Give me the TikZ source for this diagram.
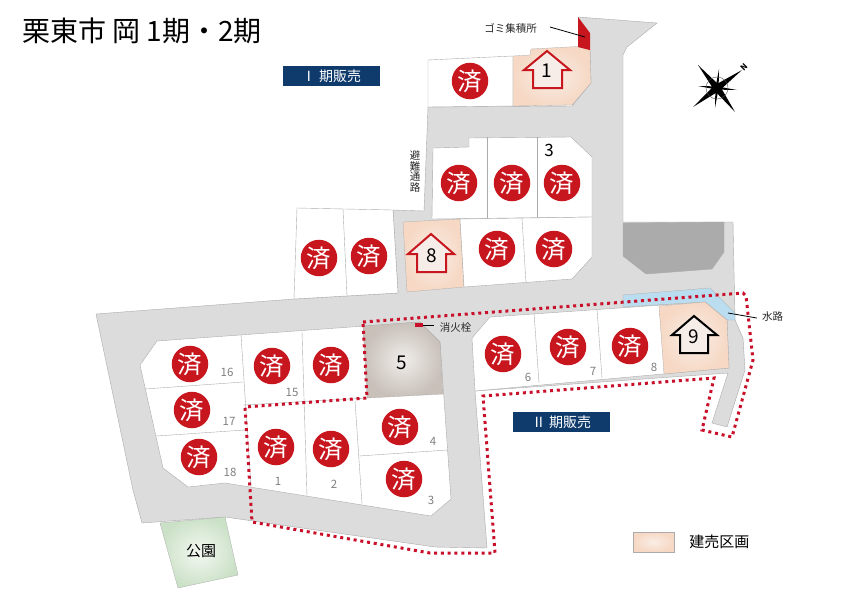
\documentclass[tikz,border=0pt]{standalone}
\usepackage{fontspec}
\setmainfont{Noto Sans CJK JP}
\usetikzlibrary{positioning,calc}
\definecolor{roadgray}{HTML}{DCDCDC}
\definecolor{edgegray}{HTML}{ABABAB}
\definecolor{pondgray}{HTML}{ABABAB}
\definecolor{soldred}{HTML}{C8161E}
\definecolor{phasered}{HTML}{C9102A}
\definecolor{pennant}{HTML}{0F3A6C}
\definecolor{waterblue}{HTML}{BBDDF0}
\definecolor{numgray}{HTML}{808080}
\definecolor{peachin}{HTML}{F9EDE6}
\definecolor{peachout}{HTML}{F6D8C4}
\definecolor{houseface}{HTML}{F6EDE8}
\definecolor{stonein}{HTML}{F0EDEA}
\definecolor{stoneout}{HTML}{C8C0B9}
\definecolor{parkin}{HTML}{F3F8F1}
\definecolor{parkout}{HTML}{CBE1C7}
\tikzset{
    road/.style={fill=roadgray,draw=edgegray,line width=0.4pt},
    lotplain/.style={fill=white,draw=edgegray,line width=0.4pt},
    lotpeach/.style={draw=edgegray,line width=0.3pt,inner color=peachin,outer color=peachout},
    soldmark/.style={circle,fill=soldred,text=white,minimum size=36.5pt,inner sep=0pt,font=\fontsize{24.5}{25}\selectfont},
    lotnum/.style={text=numgray,inner sep=0pt,font=\fontsize{11.5}{12}\selectfont},
    bignum/.style={inner sep=0pt,font=\fontsize{19}{20}\selectfont},
    smalllabel/.style={inner sep=0pt,text=black!85,font=\fontsize{10.5}{10.7}\selectfont},
    phasebox/.style={fill=pennant,text=white,minimum width=97pt,minimum height=20pt,inner sep=0pt,font=\fontsize{14}{15}\selectfont},
    leader/.style={draw=black,line width=0.8pt},
    phaseline/.style={draw=phasered,line width=3pt,dash pattern=on 3pt off 3.8pt},
    housered/.style={draw=soldred,fill=houseface,line width=2pt,miter limit=10},
    houseblack/.style={draw=black,fill=houseface,line width=2pt,miter limit=10},
}
\begin{document}
\begin{tikzpicture}[x=1pt,y=-1pt]
    \useasboundingbox (0,0) rectangle (842,595);

    % the roads
    \draw[road] (578,17) -- (657,23) -- (627,47) -- (623,55) -- (623,222) -- (733,222)
        -- (735,320) -- (743,338) -- (745,370) -- (727,427) -- (712,423) -- (728,373)
        -- (475,391) -- (487,548) -- (435,547) -- (225,517) -- (142,523) -- (133,490)
        -- (96,314) -- (294,299) -- (398,293) -- (393,210) -- (424,211) -- (428,107)
        -- (572,106) -- (591,83) -- (590,50) -- cycle;
    \draw[fill=pondgray,draw=edgegray,line width=0.4pt] (623,223) -- (724,222) -- (724,252)
        -- (712,269) -- (646,274) -- (623,256) -- cycle;
    \draw[fill=waterblue,draw=edgegray,line width=0.3pt] (623,295) -- (710,288) -- (735,313)
        -- (735,320) -- (727,320) -- (705,302) -- (623,307) -- cycle;

    % the north lots
    \draw[lotplain] (428,60) -- (513,56) -- (513,106) -- (428,107) -- cycle;
    \draw[lotpeach] (513,56) -- (530,55) -- (531,49) -- (578,46.5) -- (590,50) -- (591,83)
        -- (572,105) -- (513,106) -- cycle;
    \draw[fill=soldred,draw=none] (578,17) -- (590,33) -- (590,50) -- (578,47) -- cycle;
    \draw[lotplain] (433,148) -- (469,147) -- (469,138) -- (571,137) -- (592,157) -- (592,217)
        -- (432,219) -- cycle;
    \foreach \x/\ya/\yb in {487/137/218,537/137/217} {
        \draw[lotplain] (\x,\ya) -- (\x,\yb);
    }
    \draw[lotplain] (297,208) -- (393,210) -- (398,293) -- (294,299) -- cycle;
    \draw[lotplain] (343,209) -- (347,296);
    \draw[lotpeach] (403,222) -- (460,219) -- (464,287) -- (407,292) -- cycle;
    \draw[lotplain] (460,219) -- (592,217) -- (592,257) -- (572,279) -- (464,287) -- cycle;
    \draw[lotplain] (522,218) -- (526,283);

    % the south block
    \draw[lotplain] (157,341) -- (420,322) -- (440,342) -- (451,499) -- (431,516) -- (225,483)
        -- (188,487) -- (163,468) -- (140,365) -- cycle;
    \foreach \xa/\ya/\xb/\yb in {145/389/243/382,156/436/245/430,241/335/251/487,302/332/307/496,
        355/401/362/504,359/456/447/450,243/405/367/398} {
        \draw[lotplain] (\xa,\ya) -- (\xb,\yb);
    }
    \draw[draw=edgegray,line width=0.3pt,inner color=stonein,outer color=stoneout]
        (363,326) -- (420,322) -- (440,342) -- (443,394) -- (367,398) -- cycle;

    % the east lots
    \draw[lotplain] (472,338) -- (490,317) -- (705,302) -- (727,320) -- (729,368) -- (475,391) -- cycle;
    \foreach \xa/\ya/\xb/\yb in {534/313/539/383,597/309/602/378} {
        \draw[lotplain] (\xa,\ya) -- (\xb,\yb);
    }
    \draw[lotpeach] (659,306) -- (705,302) -- (727,320) -- (729,368) -- (664,374) -- cycle;

    % the park
    \draw[draw=edgegray,line width=0.3pt,inner color=parkin,outer color=parkout]
        (160,523) -- (225,517) -- (238,575) -- (178,588) -- cycle;

    % the phase line
    \draw[phaseline] (363,322) -- (743,293) -- (746,296) -- (753,360) -- (732,437) -- (702,430)
        -- (714,378) -- (483,396) -- (495,553) -- (430,553) -- (252,522) -- (245,407)
        -- (367,398) -- cycle;

    % the houses
    \draw[housered] (547,51) -- (570,70) -- (562,70) -- (562,88) -- (533,88) -- (533,70) -- (524,70) -- cycle;
    \draw[housered] (431,234) -- (454,254) -- (446,254) -- (446,272) -- (417,272) -- (417,254) -- (408,254) -- cycle;
    \draw[houseblack] (694,316) -- (717,335) -- (708,335) -- (708,353) -- (680,353) -- (680,335) -- (672,335) -- cycle;

    % the sold marks
    \foreach \cx/\cy [count=\i] in {470/81,459/183,512/183,562/183,497/249,554/249,319/258,369/256,
        190/364,272/366,331/365,192/410,199/457,276/447,331/449,400/427,404/479,503/354,568/347,630/346} {
        \node[soldmark] (sold\i) at (\cx,\cy) {済};
    }

    % the lot numbers
    \node[bignum] (numa) at (547,71) {1};
    \node[bignum] (numb) at (432,256) {8};
    \node[bignum] (numc) at (694,337) {9};
    \node[bignum] (numd) at (402,363) {5};
    \node[inner sep=0pt,font=\fontsize{17}{18}\selectfont] (nume) at (549,150) {3};
    \foreach \nx/\ny/\ntext [count=\i] in {227/372/16,292/392/15,229/421/17,230/472/18,278/481/1,334/484/2,
        433/441/4,431/500/3,528/377/6,593/371/7,654/367/8} {
        \node[lotnum] (small\i) at (\nx,\ny) {\ntext};
    }

    % the texts
    \node[anchor=west,inner sep=0pt,font=\fontsize{28}{29}\selectfont] (title) at (22,31) {栗東市 岡 1期・2期};
    \node[phasebox] (phasea) at (331.5,76) {Ⅰ 期販売};
    \node[phasebox] (phaseb) at (561.5,422) {Ⅱ 期販売};
    \node[smalllabel] (gomilabel) at (510.5,28.5) {ゴミ集積所};
    \node[smalllabel] (firelabel) at (455.5,328) {消火栓};
    \node[smalllabel] (waterlabel) at (772.5,317) {水路};
    \node[smalllabel,align=center] (escapelabel) at (415,171.5) {避\\難\\通\\路};
    \node[inner sep=0pt,font=\fontsize{15}{16}\selectfont] (parklabel) at (201,551) {公園};

    % the leaders
    \coordinate (gomitip) at (585,37);
    \coordinate (firetip) at (423,325);
    \coordinate (watertip) at (728,313);
    \draw[leader] ([xshift=13pt,yshift=1.5pt]gomilabel.east) -- (gomitip);
    \draw[leader] ([xshift=-6pt,yshift=3pt]firelabel.west) -- (firetip);
    \draw[leader] ([xshift=-5pt,yshift=-1pt]waterlabel.west) -- (watertip);
    \fill[phasered] (415,323) rectangle (423,327);

    % the legend
    \node[draw=edgegray,line width=0.3pt,minimum width=41pt,minimum height=20pt,inner sep=0pt,
        inner color=peachin,outer color=peachout] (legendbox) at (653.5,542) {};
    \node[right=15pt of legendbox,inner sep=0pt,font=\fontsize{15}{16}\selectfont] (legendlabel) {建売区画};

    % the compass
    \coordinate (hub) at (717,88);
    \foreach \tx/\ty/\wd in {698/65/3.6,742/70/3.6,735/112/3.6,693/107/3.6,719/69/1.6,737/90/1.6,715/108/1.6,698/86/1.6} {
        \fill (hub) -- ($(hub)!\wd pt!90:(\tx,\ty)$) -- (\tx,\ty) -- ($(hub)!\wd pt!-90:(\tx,\ty)$) -- cycle;
    }
    \fill (hub) circle (4);
    \draw[line width=0.4pt,draw=black!70] (hub) circle (11);
    \node[inner sep=0pt,rotate=45,font=\fontsize{8}{8}\bfseries] (north) at (744,67.5) {N};
\end{tikzpicture}
\end{document}
